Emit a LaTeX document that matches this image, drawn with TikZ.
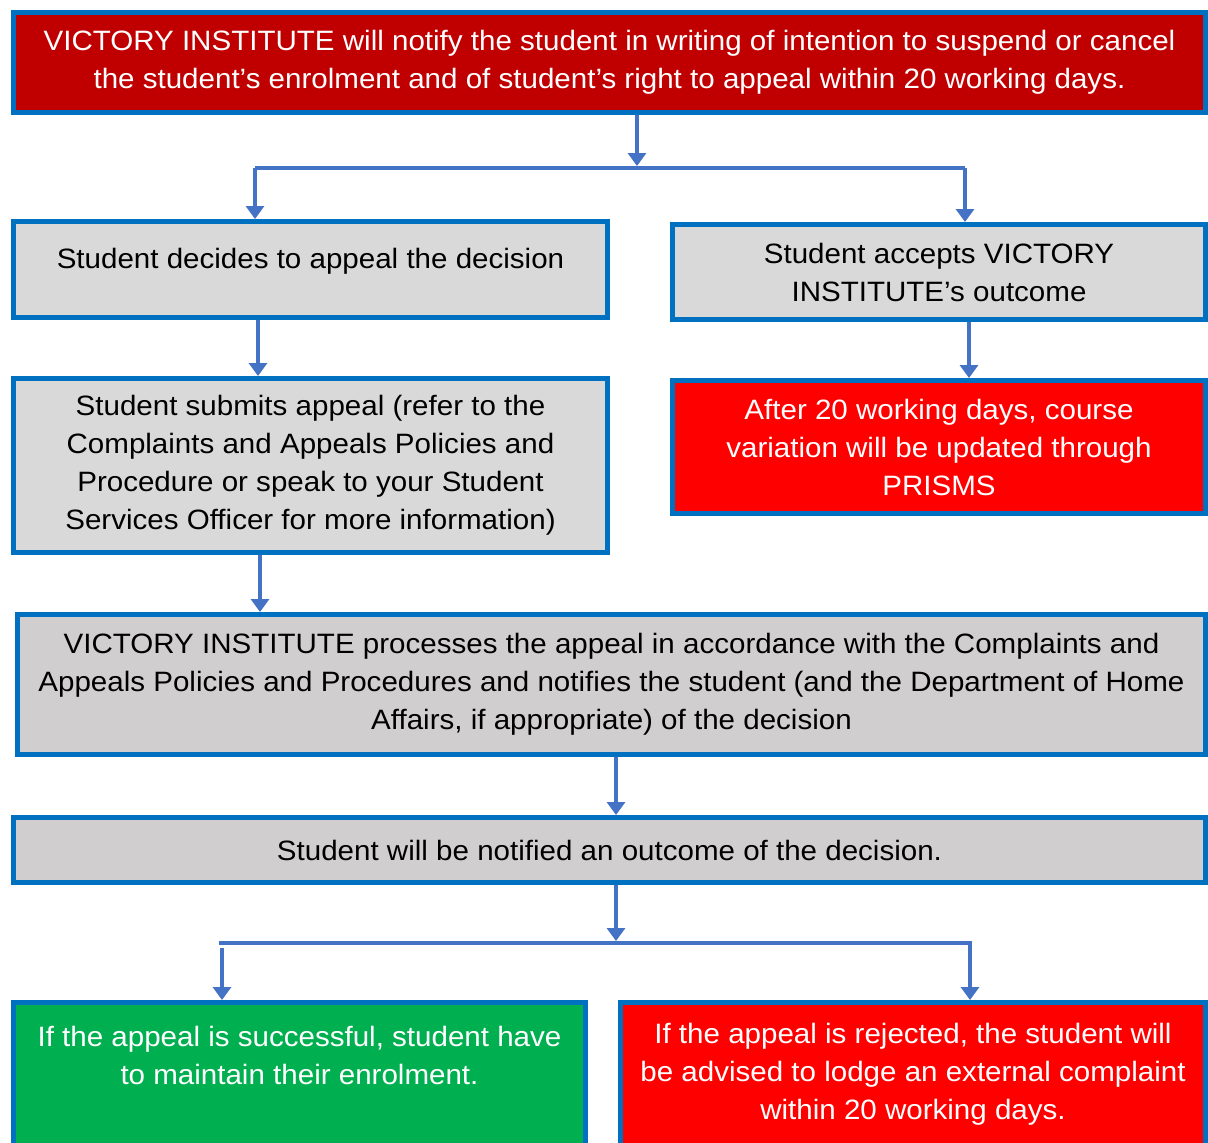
\documentclass[tikz,border=0pt]{standalone}
\usepackage{fontspec}
\setmainfont[FakeStretch=1.055]{Liberation Sans}
\usetikzlibrary{arrows.meta}
\definecolor{boxblue}{HTML}{0070C0}
\definecolor{arrowblue}{HTML}{4472C4}
\definecolor{darkred}{HTML}{C00000}
\definecolor{lightgray}{HTML}{D9D9D9}
\definecolor{pinkgray}{HTML}{D0CECE}
\definecolor{okgreen}{HTML}{00B050}
\definecolor{brightred}{HTML}{FF0000}
\tikzset{
	box/.style={draw=boxblue, line width=2.5pt, align=center, inner sep=0pt,
		font=\fontsize{14}{19}\selectfont},
	graybox/.style={box, fill=lightgray, text=black},
	wire/.style={draw=arrowblue, line width=2pt},
	arr/.style={wire, -{Triangle[width=9pt,length=6.5pt]}}
}

\begin{document}
\begin{tikzpicture}[x=0.5pt,y=-0.5pt]
	\useasboundingbox (0,0) rectangle (1208,1142);
	\begin{scope}
	\clip (0,0) rectangle (1208,1142);
	% boxes
	\node[box, fill=darkred, text=white, minimum width=596pt, minimum height=50pt] (notify) at (609.5,62.5)
		{VICTORY INSTITUTE will notify the student in writing of intention to suspend or cancel\\
		the student's enrolment and of student's right to appeal within 20 working days.};
	\node[graybox, text depth=11pt, minimum width=297pt, minimum height=48pt] (appeal) at (310.5,269.5)
		{Student decides to appeal the decision};
	\node[graybox, minimum width=266.5pt, minimum height=47.5pt] (accept) at (939,272)
		{Student accepts VICTORY\\INSTITUTE's outcome};
	\node[graybox, minimum width=297pt, minimum height=87pt] (submit) at (310.5,465.5)
		{Student submits appeal (refer to the\\Complaints and Appeals Policies and\\
		Procedure or speak to your Student\\Services Officer for more information)};
	\node[box, fill=brightred, text=white, minimum width=266.5pt, minimum height=66.5pt] (prisms) at (939,447)
		{After 20 working days, course\\variation will be updated through\\PRISMS};
	\node[box, fill=pinkgray, minimum width=594pt, minimum height=70pt] (process) at (611.5,684.5)
		{VICTORY INSTITUTE processes the appeal in accordance with the Complaints and\\
		Appeals Policies and Procedures and notifies the student (and the Department of Home\\
		Affairs, if appropriate) of the decision};
	\node[box, fill=pinkgray, minimum width=596pt, minimum height=32.5pt] (outcome) at (609.5,850)
		{Student will be notified an outcome of the decision.};
	\node[box, fill=okgreen, text=white, minimum width=286pt, minimum height=71.5pt] (success) at (299.5,1074)
		{If the appeal is successful, student have\\to maintain their enrolment.\\ \mbox{}};
	\node[box, fill=brightred, text=white, minimum width=292.5pt, minimum height=71.5pt] (reject) at (913,1074)
		{If the appeal is rejected, the student will\\be advised to lodge an external complaint\\within 20 working days.};
	\end{scope}

	% connectors
	\coordinate (split1) at (637,166);
	\coordinate (left1) at (255,168);
	\coordinate (right1) at (965,168);
	\draw[arr] (notify.south -| split1) -- (split1);
	\draw[wire] (left1) -- (right1);
	\draw[arr] (left1) -- (appeal.north -| left1);
	\draw[arr] (right1) -- (accept.north -| right1);
	\draw[arr] (appeal.south -| 258,0) -- (submit.north -| 258,0);
	\draw[arr] (accept.south -| 969,0) -- (prisms.north -| 969,0);
	\draw[arr] (submit.south -| 260,0) -- (process.north -| 260,0);
	\draw[arr] (process.south -| 616,0) -- (outcome.north -| 616,0);
	\coordinate (split2) at (616,941);
	\coordinate (left2) at (219,943);
	\coordinate (right2) at (972,943);
	\draw[arr] (outcome.south -| split2) -- (split2);
	\draw[wire] (left2) -- (right2);
	\draw[arr] (222,948) -- (success.north -| 222,0);
	\draw[arr] (970,943) -- (reject.north -| 970,0);
\end{tikzpicture}
\end{document}
